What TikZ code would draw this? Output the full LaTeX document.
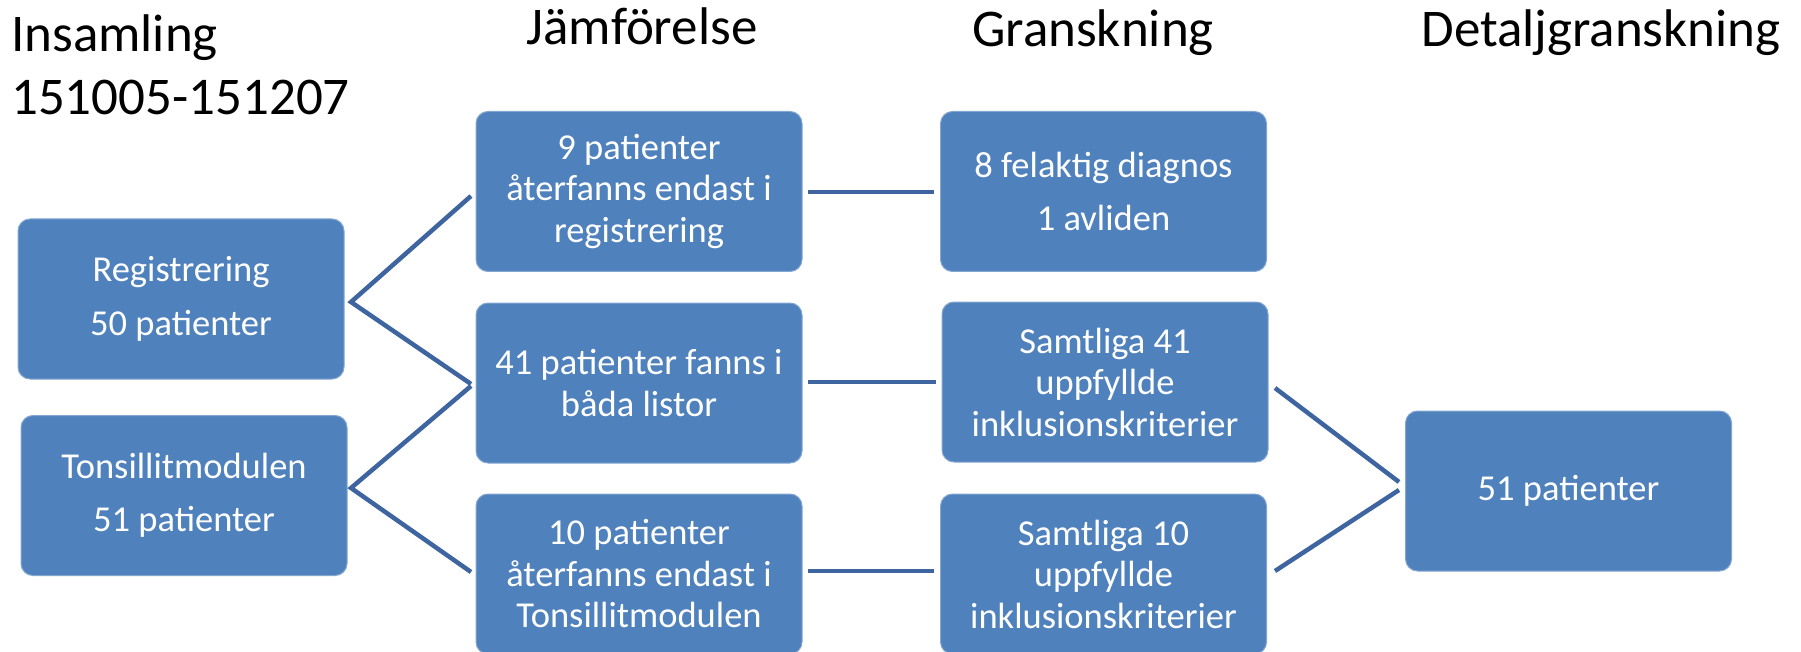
\documentclass[tikz,border=0pt]{standalone}
\usepackage{fontspec}
\setmainfont{Carlito}
\definecolor{boxblue}{HTML}{4F81BD}
\definecolor{linkblue}{HTML}{3F65A0}
\begin{document}
\begin{tikzpicture}[x=1pt,y=-1pt,
  box/.style={fill=boxblue, draw=boxblue!70!white, line width=1pt, rounded corners=12pt,
    minimum width=326pt, minimum height=160pt, inner sep=0pt, text=white, align=center,
    font=\fontsize{36.5}{41.5}\selectfont},
  link/.style={draw=linkblue, line width=4.5pt},
  title/.style={font=\fontsize{53}{60}\selectfont, inner sep=0pt}]
\useasboundingbox (0,0) rectangle (1801,652);
% titles
\node[title, anchor=base west] (t1) at (11,52) {Insamling};
\node[title, anchor=base west] (t1b) at (11,115) {151005-151207};
\node[title, anchor=base] (t2) at (642,45) {Jämförelse};
\node[title, anchor=base] (t3) at (1093,47) {Granskning};
\node[title, anchor=base] (t4) at (1601,47) {Detaljgranskning};
% boxes
\node[box] (reg) at (181,299) {Registrering\\[12pt]50 patienter};
\node[box] (ton) at (184,495.5) {Tonsillitmodulen\\[12pt]51 patienter};
\node[box] (nio) at (639,191.5) {9 patienter\\återfanns endast i\\registrering};
\node[box] (fyrtio) at (639,383) {41 patienter fanns i\\båda listor};
\node[box] (tio) at (639,574) {10 patienter\\återfanns endast i\\Tonsillitmodulen};
\node[box] (atta) at (1103.5,191.5) {8 felaktig diagnos\\[12pt]1 avliden};
\node[box] (s41) at (1105,382) {Samtliga 41\\uppfyllde\\inklusionskriterier};
\node[box] (s10) at (1103.5,574) {Samtliga 10\\uppfyllde\\inklusionskriterier};
\node[box] (tot) at (1568.5,491) {51 patienter};
% connector points
\coordinate (rv) at (351,302);
\coordinate (tv) at (351,488);
\coordinate (nioL) at (471,196);
\coordinate (fyrL1) at (471,384);
\coordinate (fyrL2) at (471,386);
\coordinate (tioL) at (471,572);
\coordinate (totL1) at (1399,482);
\coordinate (totL2) at (1399,490);
\coordinate (s41R) at (1275,388);
\coordinate (s10R) at (1275,571);
% connectors
\draw[link] (nioL) -- (rv) -- (fyrL1);
\draw[link] (fyrL2) -- (tv) -- (tioL);
\draw[link] ([xshift=5pt]nio.east |- 0,192) -- ([xshift=-6pt]atta.west |- 0,192);
\draw[link] ([xshift=5pt]fyrtio.east |- 0,382) -- ([xshift=-6pt]s41.west |- 0,382);
\draw[link] ([xshift=5pt]tio.east |- 0,571) -- ([xshift=-6pt]s10.west |- 0,571);
\draw[link] (s41R) -- (totL1);
\draw[link] (s10R) -- (totL2);
\end{tikzpicture}
\end{document}
